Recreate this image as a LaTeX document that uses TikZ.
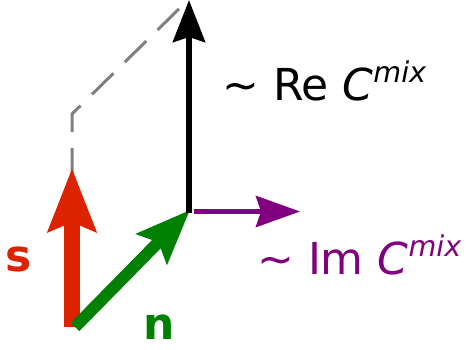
\documentclass[tikz,border=0pt]{standalone}
\usepackage{fontspec}
\setmainfont{DejaVu Sans}
\usetikzlibrary{arrows.meta}
\definecolor{sred}{HTML}{DD2200}
\definecolor{ngreen}{HTML}{008000}
\definecolor{impurple}{HTML}{800080}
\definecolor{dashgray}{HTML}{808080}
\newcommand{\Cmix}{\textit{C}\raisebox{18pt}{\fontsize{28.6}{30}\selectfont\textit{mix}}}
\begin{document}
\begin{tikzpicture}[x=1pt,y=-1pt,
  lbl/.style={inner sep=0pt,anchor=base west,font=\fontsize{44}{50}\selectfont},
  vecred/.style={draw=sred,line width=16pt,-{Stealth[length=63pt,width=47pt,inset=9pt]}},
  vecgreen/.style={draw=ngreen,line width=12pt,-{Stealth[length=54pt,width=42pt,inset=9pt]}},
  vecblack/.style={draw=black,line width=6pt,-{Stealth[length=42pt,width=32pt,inset=5pt]}},
  vecpurple/.style={draw=impurple,line width=5pt,-{Stealth[length=44pt,width=31pt,inset=5pt]}},
  guide/.style={draw=dashgray,line width=3pt,dash pattern=on 30pt off 16pt}]
\useasboundingbox (0,0) rectangle (467,349);
% coordinates
\coordinate (sbot) at (72,327);
\coordinate (stip) at (72,168);
\coordinate (nbot) at (75,327);
\coordinate (origin) at (190,210);
\coordinate (rebot) at (189,213);
\coordinate (retip) at (189,0);
\coordinate (imbot) at (194,211.5);
\coordinate (imtip) at (300,211.5);
\coordinate (gstart) at (72,178);
\coordinate (gcorner) at (72,114);
\coordinate (gend) at (187,1);
% dashed guide
\draw[guide] (gstart) -- (gcorner) -- (gend);
% vectors
\draw[vecred] (sbot) -- (stip);
\draw[vecgreen] (nbot) -- (origin);
\draw[vecblack] (rebot) -- (retip);
\draw[vecpurple] (imbot) -- (imtip);
% labels
\node[lbl,text=sred,font=\fontsize{44}{50}\selectfont\bfseries] (slabel) at (5,271) {s};
\node[lbl,text=ngreen,font=\fontsize{44}{50}\selectfont\bfseries] (nlabel) at (143,339) {n};
\node[lbl] (relabel) at (222,100) {\textasciitilde{} Re \Cmix};
\node[lbl,text=impurple] (imlabel) at (257,274) {\textasciitilde{} Im \Cmix};
\end{tikzpicture}
\end{document}
